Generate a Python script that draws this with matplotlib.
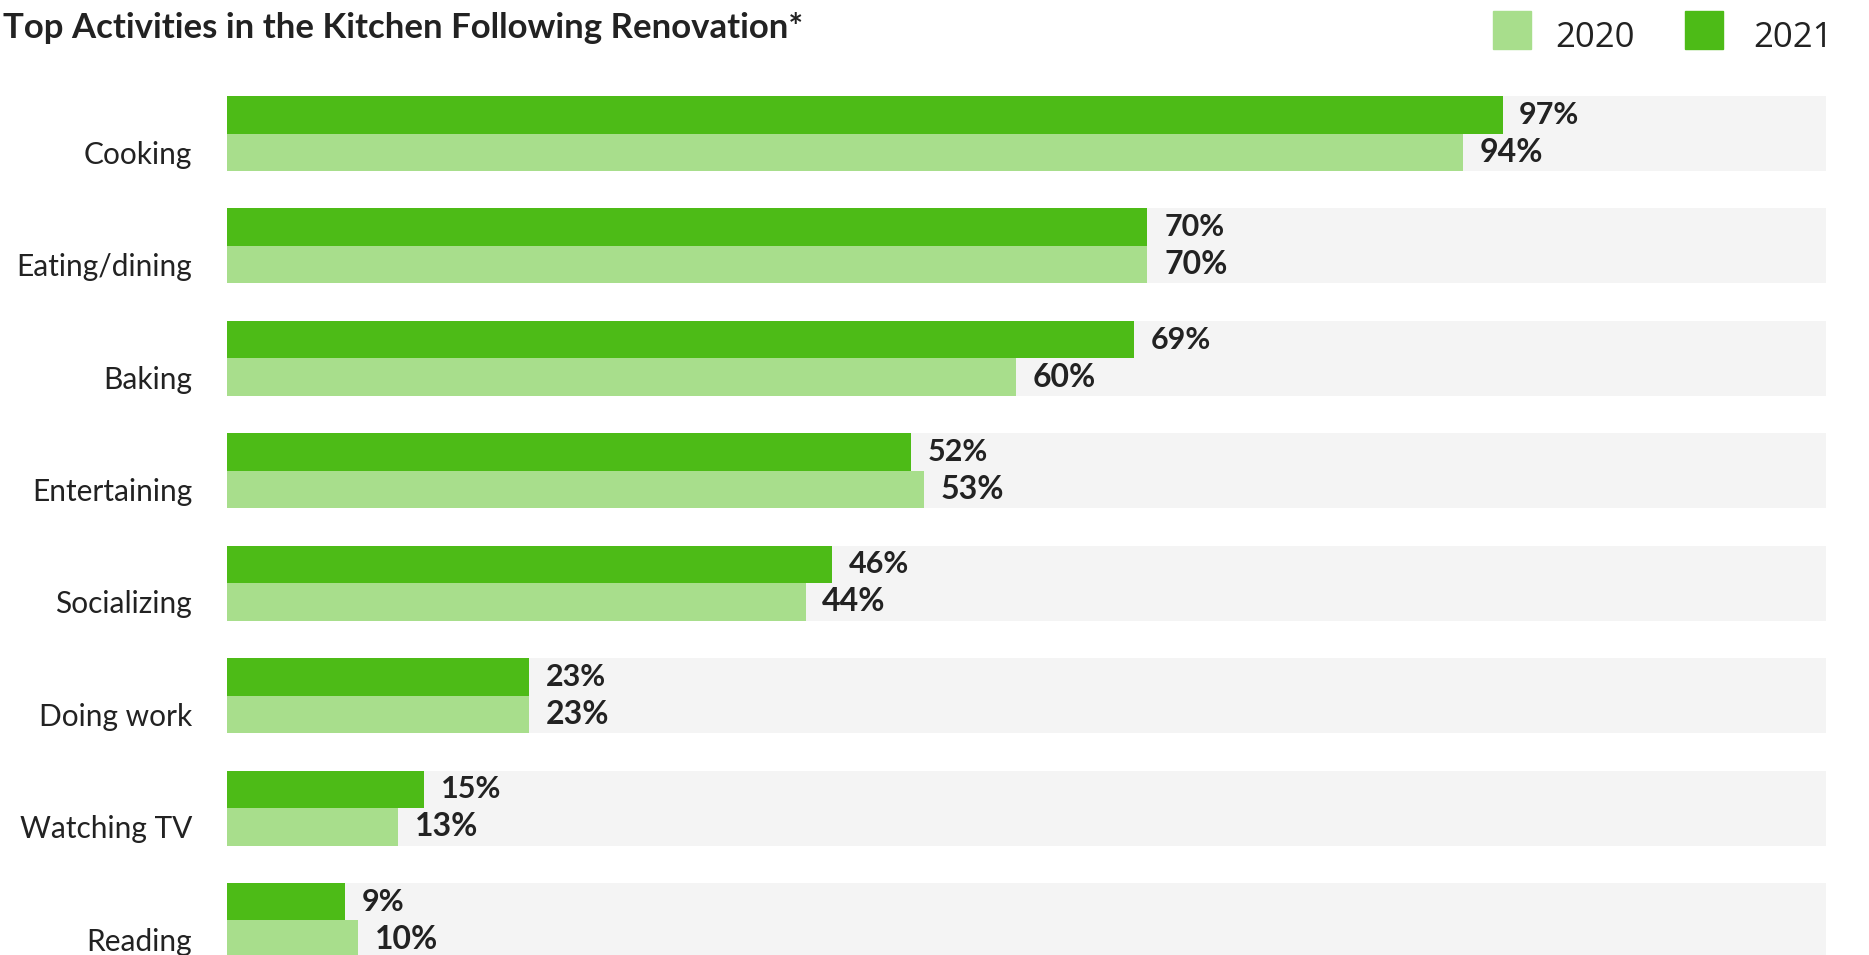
import numpy as np
import matplotlib.pyplot as plt
from matplotlib.patches import Rectangle

categories = ['Cooking', 'Eating/dining', 'Baking', 'Entertaining',
              'Socializing', 'Doing work', 'Watching TV', 'Reading']
values_2021 = [97, 70, 69, 52, 46, 23, 15, 9]
values_2020 = [94, 70, 60, 53, 44, 23, 13, 10]
years = ['2020', '2021']

color_2020 = '#a8de8c'
color_2021 = '#4dbb17'
color_band = '#f4f4f4'
color_text = '#222222'

W, H = 1869, 955
fig = plt.figure(figsize=(W / 100, H / 100), dpi=100)
# axes in pixel terms: left 227, right 1826, top 80, bottom 955
ax = fig.add_axes([227 / W, 0, (1826 - 227) / W, (955 - 80) / H])

h = 0.334
ind = np.arange(len(categories))

for i in ind:
    ax.axhspan(i - h, i + h, color=color_band, lw=0, zorder=0)

ax.barh(ind - h / 2, values_2021, height=h, color=color_2021, zorder=2)
ax.barh(ind + h / 2, values_2020, height=h, color=color_2020, zorder=2)

for i in ind:
    ax.annotate('%d%%' % values_2021[i], (values_2021[i], i - h / 2),
                xytext=(12, 0), textcoords='offset points', ha='left', va='center',
                fontsize=22, fontweight='bold', color=color_text, family='Lato')
    ax.annotate('%d%%' % values_2020[i], (values_2020[i], i + h / 2),
                xytext=(12, 0), textcoords='offset points', ha='left', va='center',
                fontsize=23, fontweight='bold', color=color_text, family='Lato')

ax.set_xlim(0, 121.6)
ax.set_ylim(7.307, -0.476)
ax.set_yticks(ind + h / 2)
ax.set_yticklabels(categories, fontsize=21.5, color=color_text, family='Lato')
ax.tick_params(axis='y', length=0, pad=25)
ax.set_xticks([])
for s in ax.spines.values():
    s.set_visible(False)

# title
fig.text(3 / W, 1 - 28 / H, 'Top Activities in the Kitchen Following Renovation*',
         ha='left', va='center', fontsize=25, fontweight='bold',
         color=color_text, family='Lato')

# legend
for x0, tx, c, lab in [(1493, 1555, color_2020, years[0]), (1685, 1753, color_2021, years[1])]:
    fig.patches.append(Rectangle((x0 / W, 1 - 49 / H), 38 / W, 38 / H,
                                 transform=fig.transFigure, color=c))
    fig.text(tx / W, 1 - 38 / H, lab, ha='left', va='center', fontsize=25,
             color=color_text, family='Open Sans')

fig.savefig('out.png', dpi=100)
